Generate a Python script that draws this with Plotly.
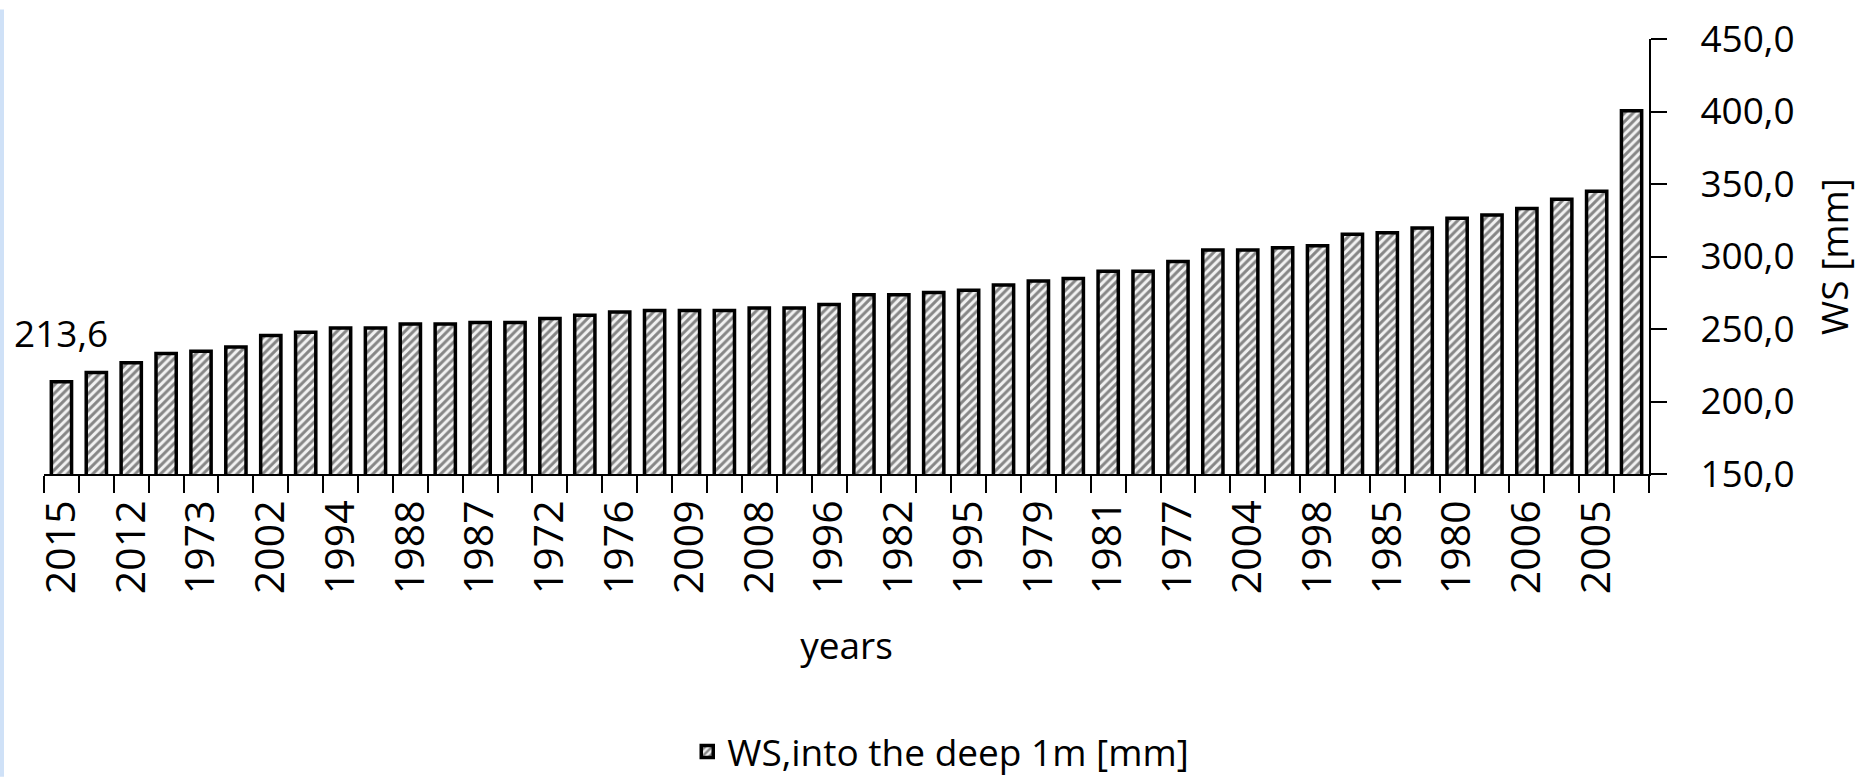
import plotly.graph_objects as go

# Tick labels shown under every second bar (sorted ascending by WS)
years_labeled = ["2015", "2012", "1973", "2002", "1994", "1988", "1987", "1972",
                 "1976", "2009", "2008", "1996", "1982", "1995", "1979", "1981",
                 "1977", "2004", "1998", "1985", "1980", "2006", "2005"]

# WS, into the deep 1 m [mm] — one value per bar (46 years)
ws_values = [213.6, 220.0, 226.8, 233.1, 234.7, 237.6, 245.5, 247.7, 250.7, 250.7,
             253.4, 253.4, 254.5, 254.5, 257.2, 259.5, 261.7, 262.8, 262.8, 262.8,
             264.4, 264.4, 266.9, 273.6, 273.6, 275.2, 276.8, 280.4, 283.1, 284.9,
             289.9, 289.9, 296.6, 304.5, 304.5, 306.1, 307.4, 315.3, 316.4, 319.6,
             326.4, 328.6, 333.1, 339.4, 345.0, 400.5]

y_ticks = [150, 200, 250, 300, 350, 400, 450]

series_name = "WS,into the deep 1m [mm]"
x_title = "years"
y_title = "WS [mm]"

positions = list(range(len(ws_values)))
label_positions = positions[::2]
boundaries = [p - 0.5 for p in positions] + [positions[-1] + 0.5]

FONT = "Open Sans"
FS = 37

fig = go.Figure()
fig.add_trace(go.Bar(
    x=positions,
    y=ws_values,
    name=series_name,
    showlegend=True,
    marker=dict(
        color="white",
        line=dict(color="black", width=3.5),
        pattern=dict(shape="/", fgcolor="#1a1a1a", bgcolor="#f2f2f2",
                     size=6, solidity=0.5),
    ),
))

fig.add_annotation(
    x=positions[0], y=ws_values[0],
    text=f"{ws_values[0]:.1f}".replace(".", ","),
    showarrow=False, yanchor="bottom", yshift=22,
    font=dict(family=FONT, size=FS, color="black"),
)

# thin light-blue strip along the left edge of the picture
fig.add_shape(type="rect", xref="paper", yref="paper",
              x0=-44 / 1605, x1=-40 / 1605, y0=-309 / 444, y1=(444 + 30) / 444,
              line=dict(width=0), fillcolor="#cfe1f7", layer="below")

fig.update_layout(
    width=1874, height=783,
    margin=dict(l=44, r=225, t=30, b=309),
    paper_bgcolor="white", plot_bgcolor="white",
    font=dict(family=FONT, size=FS, color="black"),
    separators=", ",
    bargap=0.42,
    showlegend=True,
    legend=dict(orientation="h", xref="container", yref="container",
                x=0.502, xanchor="center", y=0.0, yanchor="bottom",
                font=dict(family=FONT, size=FS, color="black")),
)

fig.update_xaxes(
    range=[-0.5, len(ws_values) - 0.5],
    tickmode="array", tickvals=label_positions, ticktext=years_labeled,
    tickangle=-90, ticks="", ticklabelstandoff=8,
    tickfont=dict(family=FONT, size=41, color="black"),
    showline=True, linecolor="black", linewidth=2,
    showgrid=False, zeroline=False,
    minor=dict(tickmode="array", tickvals=boundaries, ticks="outside",
               ticklen=17, tickwidth=2, tickcolor="black", showgrid=False),
    title=dict(text=x_title, standoff=40, font=dict(family=FONT, size=FS)),
)

fig.update_yaxes(
    range=[150, 450], side="right",
    tickmode="array", tickvals=y_ticks, tickformat=".1f",
    ticks="outside", ticklen=16, tickwidth=2, tickcolor="black",
    ticklabelstandoff=26,
    showline=True, linecolor="black", linewidth=2,
    showgrid=False, zeroline=False,
    title=dict(text=y_title, standoff=28, font=dict(family=FONT, size=FS)),
)

fig.write_html("out.html")
